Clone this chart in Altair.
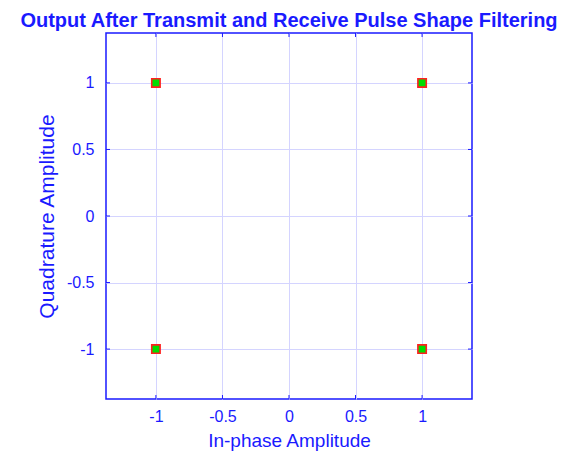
import altair as alt
import pandas as pd

in_phase = [-1, 1, -1, 1]
quadrature = [1, 1, -1, -1]
tick_vals = [-1, -0.5, 0, 0.5, 1]

df = pd.DataFrame({"I": in_phase, "Q": quadrature})
ticks = pd.DataFrame({"t": tick_vals})

BLUE = "#1a1aff"
dom = [-1.375, 1.375]
xs = alt.Scale(domain=dom, nice=False, zero=False)
ys = alt.Scale(domain=dom, nice=False, zero=False)
lab = "replace(datum.label, '\u2212', '-')"

pts = alt.Chart(df).mark_square(size=70, color="#00dd00", stroke="#ff2020",
                                strokeWidth=1.6, opacity=1, fillOpacity=1).encode(
    x=alt.X("I:Q", scale=xs, title="In-phase Amplitude",
            axis=alt.Axis(values=tick_vals, ticks=False, labelPadding=9, titlePadding=7,
                          format="~g", labelExpr=lab, domain=False, titleFontSize=19)),
    y=alt.Y("Q:Q", scale=ys, title="Quadrature Amplitude",
            axis=alt.Axis(values=tick_vals, ticks=False, labelPadding=12, titlePadding=9,
                          format="~g", labelExpr=lab, domain=False, titleFontSize=21)),
)

tx_b = alt.Chart(ticks).mark_rule(color=BLUE, strokeWidth=1).encode(
    x=alt.X("t:Q", scale=xs), y=alt.value(366), y2=alt.value(362))
tx_t = alt.Chart(ticks).mark_rule(color=BLUE, strokeWidth=1).encode(
    x=alt.X("t:Q", scale=xs), y=alt.value(0), y2=alt.value(4))
ty_l = alt.Chart(ticks).mark_rule(color=BLUE, strokeWidth=1).encode(
    y=alt.Y("t:Q", scale=ys), x=alt.value(0), x2=alt.value(4))
ty_r = alt.Chart(ticks).mark_rule(color=BLUE, strokeWidth=1).encode(
    y=alt.Y("t:Q", scale=ys), x=alt.value(366), x2=alt.value(362))

chart = alt.layer(tx_b, tx_t, ty_l, ty_r, pts).properties(
    width=366, height=366,
    autosize=alt.AutoSizeParams(type="none"),
    padding={"left": 98, "top": 25, "right": 90, "bottom": 54},
    title=alt.TitleParams("Output After Transmit and Receive Pulse Shape Filtering",
                          font="Liberation Sans", fontSize=20, fontWeight="bold",
                          color=BLUE, anchor="middle", frame="group", offset=2),
).configure_view(stroke=BLUE, strokeWidth=1.5).configure_axis(
    gridColor="#d4d4ff", gridWidth=1, gridOpacity=1,
    labelColor=BLUE, labelFont="Liberation Sans", labelFontSize=16,
    titleColor=BLUE, titleFont="Liberation Sans", titleFontWeight="normal",
)

chart.save("out.html", embed_options={"renderer": "svg", "actions": False})
